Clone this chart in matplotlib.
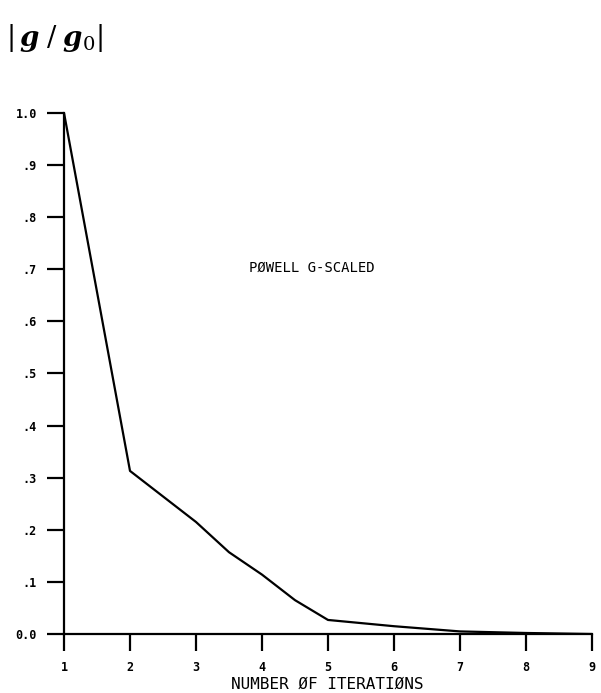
import matplotlib
matplotlib.use('Agg')
import matplotlib.pyplot as plt

iterations = [1, 2, 3, 3.5, 4, 4.5, 5, 6, 7, 8, 9]
g_ratio = [1.0, 0.313, 0.215, 0.157, 0.114, 0.065, 0.027, 0.015, 0.005, 0.002, 0.0]
y_ticks = [0.0, 0.1, 0.2, 0.3, 0.4, 0.5, 0.6, 0.7, 0.8, 0.9, 1.0]
y_labels = ['0.0', '.1', '.2', '.3', '.4', '.5', '.6', '.7', '.8', '.9', '1.0']
x_ticks = [1, 2, 3, 4, 5, 6, 7, 8, 9]

fig = plt.figure(figsize=(6.01, 6.93), dpi=100)
ax = fig.add_axes([0.1065, 0.0851, 0.8785, 0.752])

ax.plot(iterations, g_ratio, color='black', linewidth=1.6)

ax.set_xlim(1, 9)
ax.set_ylim(0, 1.0)
ax.set_xticks(x_ticks)
ax.set_yticks(y_ticks)
ax.set_yticklabels(y_labels)

ax.spines['top'].set_visible(False)
ax.spines['right'].set_visible(False)
for s in ('left', 'bottom'):
    ax.spines[s].set_linewidth(1.6)
ax.tick_params(axis='both', direction='out', length=12.5, width=1.6, color='black')
ax.tick_params(axis='y', pad=7)
ax.tick_params(axis='x', pad=7)
for lab in ax.get_xticklabels() + ax.get_yticklabels():
    lab.set_fontfamily('DejaVu Sans Mono')
    lab.set_fontweight('bold')
    lab.set_fontsize(8.5)

ax.text(4.76, 0.702, 'PØWELL G-SCALED', ha='center', va='center',
        fontsize=10, family='DejaVu Sans Mono')
fig.text(0.545, 0.012, 'NUMBER ØF ITERATIØNS', ha='center', va='center',
         fontsize=11.5, family='DejaVu Sans Mono')
fig.text(0.01, 0.945, r'$\left|\,\mathbfit{g}\;/\;\mathbfit{g}_0\right|$', ha='left', va='center',
         fontsize=20, math_fontfamily='dejavuserif')

fig.savefig('out.png', dpi=100)
